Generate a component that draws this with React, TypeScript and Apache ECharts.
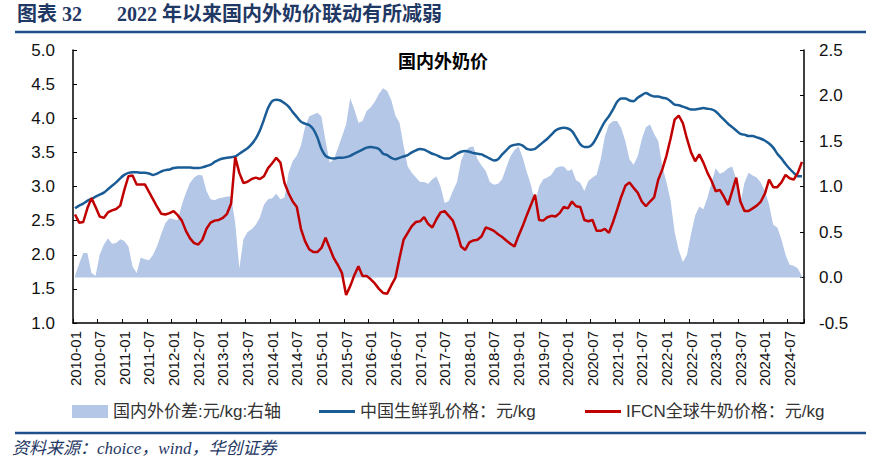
import React, { useEffect, useRef } from 'react';
import * as echarts from 'echarts';

// ---- categories: monthly 2010-01 .. 2024-10 ----
const years = [2010, 2011, 2012, 2013, 2014, 2015, 2016, 2017, 2018, 2019, 2020, 2021, 2022, 2023, 2024];
const monthsOfYear = ['01', '02', '03', '04', '05', '06', '07', '08', '09', '10', '11', '12'];
const categories: string[] = [];
years.forEach((y) => monthsOfYear.forEach((m) => categories.push(`${y}-${m}`)));
const lastIndex = 178;
const xLabels = categories.slice(0, lastIndex);

// ---- series values ----
// 中国生鲜乳价格 (左轴, 元/kg)
const chinaRawMilk: number[] = [
  2.68, 2.72, 2.75, 2.79, 2.82, 2.85, 2.88, 2.91, 2.96, 3.01, 3.06, 3.12,
  3.17, 3.20, 3.21, 3.21, 3.20, 3.20, 3.19, 3.17, 3.19, 3.22, 3.24, 3.25,
  3.27, 3.28, 3.28, 3.28, 3.28, 3.27, 3.27, 3.28, 3.30, 3.32, 3.36, 3.39,
  3.41, 3.42, 3.43, 3.44, 3.48, 3.52, 3.56, 3.62, 3.70, 3.82, 3.98, 4.15,
  4.25, 4.27, 4.26, 4.22, 4.17, 4.09, 4.02, 3.95, 3.92, 3.90, 3.84, 3.72,
  3.55, 3.45, 3.42, 3.41, 3.42, 3.42, 3.43, 3.45, 3.48, 3.51, 3.54, 3.57,
  3.58, 3.57, 3.55, 3.48, 3.46, 3.42, 3.40, 3.42, 3.44, 3.46, 3.50, 3.53,
  3.55, 3.54, 3.51, 3.48, 3.46, 3.43, 3.41, 3.41, 3.44, 3.48, 3.51, 3.52,
  3.51, 3.49, 3.48, 3.47, 3.44, 3.41, 3.38, 3.40, 3.47, 3.53, 3.59, 3.61,
  3.62, 3.60, 3.55, 3.54, 3.55, 3.60, 3.65, 3.70, 3.76, 3.82, 3.85, 3.86,
  3.85, 3.81, 3.72, 3.62, 3.58, 3.58, 3.62, 3.72, 3.84, 3.95, 4.03, 4.13,
  4.24, 4.29, 4.29, 4.26, 4.25, 4.30, 4.34, 4.37, 4.34, 4.32, 4.32, 4.30,
  4.29, 4.25, 4.20, 4.19, 4.17, 4.15, 4.13, 4.13, 4.14, 4.15, 4.14, 4.13,
  4.10, 4.04, 3.98, 3.92, 3.87, 3.82, 3.77, 3.76, 3.74, 3.74, 3.72, 3.70,
  3.67, 3.63, 3.57, 3.48, 3.41, 3.33, 3.26, 3.20, 3.15, 3.15,
];

// IFCN全球牛奶价格 (左轴, 元/kg)
const ifcnMilk: number[] = [
  2.59, 2.47, 2.48, 2.68, 2.83, 2.70, 2.56, 2.54, 2.62, 2.65, 2.67, 2.72,
  2.95, 3.15, 3.16, 3.03, 3.03, 3.03, 2.92, 2.81, 2.70, 2.60, 2.59, 2.61,
  2.64, 2.58, 2.50, 2.35, 2.24, 2.17, 2.15, 2.22, 2.38, 2.47, 2.50, 2.51,
  2.54, 2.60, 2.75, 3.43, 3.20, 3.05, 3.07, 3.11, 3.13, 3.11, 3.15, 3.27,
  3.34, 3.42, 3.35, 3.05, 2.90, 2.78, 2.70, 2.38, 2.20, 2.08, 2.04, 2.04,
  2.10, 2.25, 2.10, 1.95, 1.85, 1.73, 1.41, 1.54, 1.70, 1.83, 1.69, 1.69,
  1.64, 1.58, 1.50, 1.44, 1.43, 1.55, 1.66, 1.95, 2.22, 2.32, 2.42, 2.48,
  2.49, 2.55, 2.45, 2.40, 2.52, 2.62, 2.64, 2.57, 2.50, 2.33, 2.12, 2.07,
  2.18, 2.21, 2.22, 2.27, 2.40, 2.38, 2.35, 2.30, 2.26, 2.21, 2.16, 2.12,
  2.28, 2.42, 2.58, 2.73, 2.88, 2.51, 2.50, 2.55, 2.57, 2.56, 2.61, 2.70,
  2.68, 2.78, 2.71, 2.70, 2.51, 2.49, 2.51, 2.35, 2.35, 2.38, 2.32, 2.48,
  2.66, 2.85, 3.01, 3.06, 2.98, 2.91, 2.78, 2.71, 2.78, 2.84, 3.10, 3.25,
  3.45, 3.70, 3.98, 4.04, 3.93, 3.70, 3.50, 3.37, 3.47, 3.35, 3.20, 3.08,
  2.93, 2.95, 2.85, 2.73, 2.93, 3.13, 2.78, 2.64, 2.64, 2.68, 2.72, 2.78,
  2.90, 3.10, 2.99, 2.99, 3.06, 3.17, 3.12, 3.10, 3.20, 3.36,
];

// 国内外价差 (右轴, 元/kg)
const priceGap: number[] = [
  0.02, 0.15, 0.27, 0.27, 0.05, 0.02, 0.25, 0.36, 0.43, 0.37, 0.38, 0.42,
  0.40, 0.34, 0.12, 0.05, 0.22, 0.20, 0.19, 0.25, 0.35, 0.48, 0.60, 0.65,
  0.64, 0.63, 0.80, 0.93, 1.04, 1.10, 1.13, 1.12, 0.95, 0.86, 0.85, 0.87,
  0.88, 0.89, 0.89, 0.60, 0.10, 0.42, 0.50, 0.53, 0.58, 0.66, 0.80, 0.86,
  0.87, 0.92, 0.86, 0.88, 1.15, 1.28, 1.34, 1.45, 1.65, 1.77, 1.79, 1.81,
  1.77, 1.50, 1.26, 1.30, 1.42, 1.55, 1.68, 1.97, 1.85, 1.70, 1.72, 1.83,
  1.87, 1.93, 2.02, 2.08, 2.05, 1.95, 1.78, 1.70, 1.45, 1.22, 1.15, 1.10,
  1.05, 1.05, 1.03, 1.08, 1.11, 1.00, 0.82, 0.84, 0.95, 1.05, 1.28, 1.39,
  1.43, 1.44, 1.30, 1.23, 1.17, 1.05, 1.02, 1.03, 1.08, 1.21, 1.33, 1.40,
  1.44, 1.32, 1.16, 1.02, 0.82, 1.00, 1.08, 1.10, 1.13, 1.20, 1.22, 1.22,
  1.17, 1.19, 1.07, 1.04, 0.95, 1.06, 1.10, 1.13, 1.30, 1.55, 1.68, 1.72,
  1.72, 1.64, 1.50, 1.30, 1.24, 1.33, 1.52, 1.65, 1.68, 1.58, 1.50, 1.22,
  1.05, 0.85, 0.50, 0.30, 0.17, 0.25, 0.48, 0.68, 0.78, 0.75, 0.88, 1.05,
  1.20, 1.14, 1.16, 1.20, 1.22, 1.08, 0.82, 1.04, 1.15, 1.12, 1.10, 1.04,
  0.95, 0.80, 0.58, 0.55, 0.42, 0.25, 0.14, 0.13, 0.10, 0.01,
];

const seriesNames = ['国内外价差:元/kg:右轴', '中国生鲜乳价格：元/kg', 'IFCN全球牛奶价格：元/kg'];
const headerLabel = '图表 32';
const headerTitle = '2022 年以来国内外奶价联动有所减弱';
const chartTitle = '国内外奶价';
const sourceText = '资料来源：choice，wind，华创证券';

const SANS = "'Liberation Sans', Arial, 'Noto Sans CJK SC', sans-serif";
const SERIF = "'Liberation Serif', 'Times New Roman', 'Noto Sans CJK SC', serif";
const NAVY = '#1F3864';
const RULE = '#1F4E8C';
const AREA = '#B4C7E7';
const BLUE = '#1A5C96';
const RED = '#C00000';

export default function App() {
  const ref = useRef<HTMLDivElement>(null);
  useEffect(() => {
    if (!ref.current) return;
    const chart = echarts.init(ref.current, undefined, { renderer: 'svg' });
    const legendBase = {
      top: 398,
      itemGap: 0,
      textStyle: { fontSize: 17, color: '#333', fontFamily: SANS },
      selectedMode: false,
    };
    const option: any = {
      animation: false,
      backgroundColor: '#ffffff',
      textStyle: { fontFamily: SANS },
      grid: { left: 73, right: 75, top: 50, bottom: 142 },
      legend: [
        { ...legendBase, left: 67, itemWidth: 36, itemHeight: 13, data: [{ name: seriesNames[0], icon: 'rect' }] },
        { ...legendBase, left: 314, itemWidth: 36, itemHeight: 3, data: [{ name: seriesNames[1], icon: 'rect' }] },
        { ...legendBase, left: 580, itemWidth: 36, itemHeight: 3, data: [{ name: seriesNames[2], icon: 'rect' }] },
      ],
      xAxis: {
        type: 'category',
        data: xLabels,
        boundaryGap: true,
        axisLine: { show: true, onZero: false, lineStyle: { color: '#000', width: 1.5 } },
        axisTick: { show: true, inside: true, interval: 5, length: 4, lineStyle: { color: '#000' } },
        axisLabel: { interval: 5, rotate: 90, fontSize: 15, color: '#111', margin: 8, fontFamily: SANS },
        splitLine: { show: false },
      },
      yAxis: [
        {
          type: 'value',
          position: 'left',
          min: 1,
          max: 5,
          interval: 0.5,
          axisLine: { show: true, onZero: false, lineStyle: { color: '#000', width: 1.5 } },
          axisTick: { show: true, inside: true, length: 4, lineStyle: { color: '#000' } },
          axisLabel: { formatter: (v: number) => v.toFixed(1), fontSize: 17, color: '#111', margin: 18, fontFamily: SANS },
          splitLine: { show: false },
        },
        {
          type: 'value',
          position: 'right',
          min: -0.5,
          max: 2.5,
          interval: 0.5,
          axisLine: { show: true, onZero: false, lineStyle: { color: '#000', width: 1.5 } },
          axisTick: { show: true, inside: true, length: 4, lineStyle: { color: '#000' } },
          axisLabel: { formatter: (v: number) => v.toFixed(1), fontSize: 17, color: '#111', margin: 15, fontFamily: SANS },
          splitLine: { show: false },
        },
      ],
      series: [
        {
          name: seriesNames[0],
          type: 'line',
          yAxisIndex: 1,
          data: priceGap,
          symbol: 'none',
          lineStyle: { width: 0, color: AREA },
          itemStyle: { color: AREA },
          areaStyle: { color: AREA, opacity: 1 },
          z: 1,
        },
        {
          name: seriesNames[1],
          type: 'line',
          yAxisIndex: 0,
          data: chinaRawMilk,
          symbol: 'none',
          smooth: 0.3,
          lineStyle: { width: 2.5, color: BLUE },
          itemStyle: { color: BLUE },
          z: 3,
        },
        {
          name: seriesNames[2],
          type: 'line',
          yAxisIndex: 0,
          data: ifcnMilk,
          symbol: 'none',
          lineStyle: { width: 2.5, color: RED },
          itemStyle: { color: RED },
          z: 4,
        },
      ],
      graphic: [
        {
          type: 'text',
          left: 17,
          top: 4,
          style: { text: headerLabel, fill: NAVY, fontSize: 20, fontWeight: 'bold', fontFamily: SERIF },
        },
        {
          type: 'text',
          left: 117,
          top: 4,
          style: { text: headerTitle, fill: NAVY, fontSize: 20, fontWeight: 'bold', fontFamily: SERIF },
        },
        {
          type: 'line',
          shape: { x1: 15, y1: 32, x2: 866, y2: 32 },
          style: { stroke: RULE, lineWidth: 2.5 },
        },
        {
          type: 'text',
          x: 443,
          y: 62,
          style: { text: chartTitle, fill: '#000', fontSize: 18, fontWeight: 'bold', fontFamily: SERIF, align: 'center', verticalAlign: 'middle' },
        },
        {
          type: 'line',
          shape: { x1: 15, y1: 433, x2: 866, y2: 433 },
          style: { stroke: RULE, lineWidth: 2.5 },
        },
        {
          type: 'text',
          left: 12,
          top: 440,
          style: { text: sourceText, fill: NAVY, fontSize: 17, fontStyle: 'italic', fontFamily: SERIF },
        },
      ],
    };
    chart.setOption(option);
    return () => chart.dispose();
  }, []);
  return (
    <div
      ref={ref}
      style={{ position: 'absolute', left: 0, top: 0, width: 879, height: 465, background: '#fff' }}
    />
  );
}
